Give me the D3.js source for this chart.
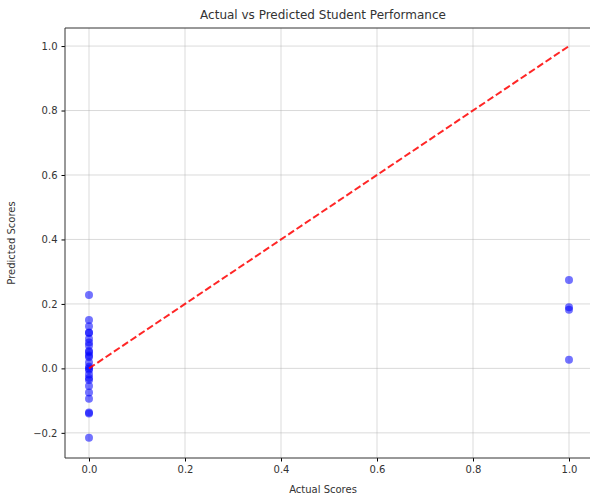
<!DOCTYPE html>
<meta charset="utf-8">
<script src="https://d3js.org/d3.v7.min.js"></script>
<style>
  body { margin: 0; background: #fff; overflow: hidden; }
  text { font-family: "DejaVu Sans", sans-serif; fill: #333; }
</style>
<body>
<div id="my_dataviz"></div>
<script>

// values
var actualZero = [0.228, 0.150, 0.131, 0.111, 0.110, 0.092, 0.080, 0.071, 0.054, 0.050, 0.035,
                  0.040, 0.018, 0.005, 0.0, -0.005, -0.019, -0.036, -0.030, -0.055, -0.075,
                  -0.094, -0.137, -0.140, -0.215];
var actualOne = [0.274, 0.190, 0.182, 0.027];
var xTicks = [0.0, 0.2, 0.4, 0.6, 0.8, 1.0];
var yTicks = [-0.2, 0.0, 0.2, 0.4, 0.6, 0.8, 1.0];
var idealLine = [0, 1];

var points = actualZero.map(function(v) { return {actual: 0, predicted: v}; })
  .concat(actualOne.map(function(v) { return {actual: 1, predicted: v}; }));

// set the dimensions and margins of the graph
var margin = {top: 28, right: -3, bottom: 43, left: 65},
    width = 590 - margin.left - margin.right,
    height = 501 - margin.top - margin.bottom;

var svg = d3.select("#my_dataviz")
  .append("svg")
    .attr("width", 590)
    .attr("height", 501)
  .append("g")
    .attr("transform", "translate(" + margin.left + "," + margin.top + ")");

var x = d3.scaleLinear()
  .domain([-0.05, 1.05])
  .range([0, width]);

var y = d3.scaleLinear()
  .domain([-0.278, 1.056])
  .range([height, 0]);

// grid
svg.append("g")
  .selectAll("line")
  .data(xTicks)
  .enter()
  .append("line")
    .attr("x1", function(d) { return x(d); })
    .attr("x2", function(d) { return x(d); })
    .attr("y1", 0)
    .attr("y2", height)
    .attr("stroke", "#b0b0b0")
    .attr("stroke-opacity", 0.6)
    .attr("stroke-width", 0.8);
svg.append("g")
  .selectAll("line")
  .data(yTicks)
  .enter()
  .append("line")
    .attr("y1", function(d) { return y(d); })
    .attr("y2", function(d) { return y(d); })
    .attr("x1", 0)
    .attr("x2", width)
    .attr("stroke", "#b0b0b0")
    .attr("stroke-opacity", 0.6)
    .attr("stroke-width", 0.8);

// points
svg.selectAll("mycircle")
  .data(points)
  .enter()
  .append("circle")
    .attr("cx", function(d) { return x(d.actual); })
    .attr("cy", function(d) { return y(d.predicted); })
    .attr("r", 4)
    .style("fill", "#0000ff")
    .style("fill-opacity", 0.55);

// ideal line
svg.append("line")
  .attr("x1", x(idealLine[0]))
  .attr("y1", y(idealLine[0]))
  .attr("x2", x(idealLine[1]))
  .attr("y2", y(idealLine[1]))
  .attr("stroke", "#ff0000")
  .attr("stroke-opacity", 0.85)
  .attr("stroke-width", 2)
  .attr("stroke-dasharray", "7,3");

// axes
var fmt = d3.format(".1f");
svg.append("g")
  .attr("transform", "translate(0," + height + ")")
  .call(d3.axisBottom(x).tickValues(xTicks).tickFormat(fmt).tickSizeOuter(0).tickSize(3.5).tickPadding(4))
  .call(function(g) { g.select(".domain").remove(); })
  .selectAll("text").style("font-size", "10px").attr("fill", "#333");
svg.append("g")
  .call(d3.axisLeft(y).tickValues(yTicks).tickFormat(function(d) { return fmt(d).replace("-", "\u2212"); }).tickSizeOuter(0).tickSize(3.5).tickPadding(4))
  .call(function(g) { g.select(".domain").remove(); })
  .selectAll("text").style("font-size", "10px").attr("fill", "#333");

// frame (right side falls outside the window)
svg.append("path")
  .attr("d", "M" + (width + 5) + ",0H0V" + height + "H" + (width + 5))
  .attr("fill", "none")
  .attr("stroke", "#333")
  .attr("stroke-width", 1);

// labels
svg.append("text")
  .attr("x", 323 - margin.left)
  .attr("y", -9)
  .style("text-anchor", "middle")
  .style("font-size", "12px")
  .text("Actual vs Predicted Student Performance");

svg.append("text")
  .attr("x", 323 - margin.left)
  .attr("y", height + 35)
  .style("text-anchor", "middle")
  .style("font-size", "10px")
  .text("Actual Scores");

svg.append("text")
  .attr("transform", "rotate(-90)")
  .attr("x", -(height / 2))
  .attr("y", -50)
  .style("text-anchor", "middle")
  .style("font-size", "10px")
  .text("Predicted Scores");

</script>
</body>
